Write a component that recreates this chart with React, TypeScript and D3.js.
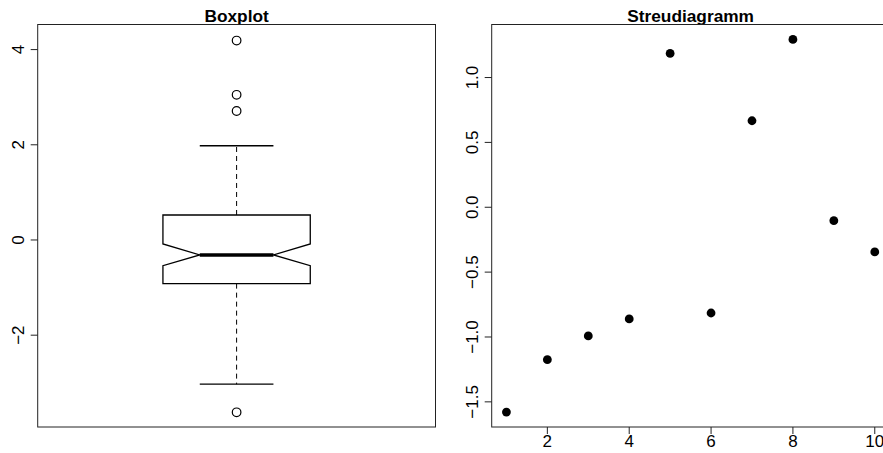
import React from "react";
import * as d3 from "d3";

// Boxplot statistics (n = 100)
const boxStats = { lowerWhisker: -3.03, q1: -0.917, median: -0.315, q3: 0.525, upperWhisker: 1.98 };
const notchBounds = [-0.54, -0.084];
const outliers = [4.19, 3.05, 2.71, -3.62];
const boxTicks = [-2, 0, 2, 4];

// Scatter data
const scatterX = [1, 2, 3, 4, 5, 6, 7, 8, 9, 10];
const scatterY = [-1.579, -1.175, -0.992, -0.861, 1.186, -0.815, 0.667, 1.294, -0.103, -0.344];
const scatterXTicks = [2, 4, 6, 8, 10];
const scatterYTicks = [-1.5, -1.0, -0.5, 0.0, 0.5, 1.0];

const W = 883;
const H = 453;
const FONT = "'Liberation Sans', Arial, Helvetica, sans-serif";
const TOP = 24.5;
const BOTTOM = 427;
const TICKFS = 17;

const fmtMinus = (s: string) => s.replace("-", "\u2212");

export default function App() {
  // Left panel
  const lx = d3.scaleLinear().domain([0.46, 1.54]).range([37.7, 435.5]);
  const ly = d3.scaleLinear().domain([-3.929, 4.527]).range([BOTTOM, TOP]);
  // Right panel
  const rx = d3.scaleLinear().domain([0.64, 10.36]).range([491.7, 889.5]);
  const ext = d3.extent(scatterY) as [number, number];
  const pad = (ext[1] - ext[0]) * 0.04;
  const ry = d3.scaleLinear().domain([ext[0] - pad, ext[1] + pad]).range([BOTTOM, TOP]);

  const c = 1;
  const bw = 0.2;
  const nw = 0.1;
  const cap = 0.1;

  const boxPath =
    `M${lx(c - bw)},${ly(boxStats.q3)}` +
    `L${lx(c + bw)},${ly(boxStats.q3)}` +
    `L${lx(c + bw)},${ly(notchBounds[1])}` +
    `L${lx(c + nw)},${ly(boxStats.median)}` +
    `L${lx(c + bw)},${ly(notchBounds[0])}` +
    `L${lx(c + bw)},${ly(boxStats.q1)}` +
    `L${lx(c - bw)},${ly(boxStats.q1)}` +
    `L${lx(c - bw)},${ly(notchBounds[0])}` +
    `L${lx(c - nw)},${ly(boxStats.median)}` +
    `L${lx(c - bw)},${ly(notchBounds[1])}Z`;

  const fmtBox = (v: number) => fmtMinus(d3.format("d")(v));
  const fmtScat = (v: number) => fmtMinus(d3.format(".1f")(v));

  return (
    <svg
      width={W}
      height={H}
      style={{ position: "absolute", left: 0, top: 0, background: "#fff" }}
      fontFamily={FONT}
    >
      <rect x={0} y={0} width={W} height={H} fill="#fff" />
      {/* ---------- Left: Boxplot ---------- */}
      <text x={(lx.range()[0] + lx.range()[1]) / 2} y={21.5} textAnchor="middle" fontWeight="bold" fontSize={17.3}>
        Boxplot
      </text>
      <rect
        x={lx.range()[0]}
        y={TOP}
        width={lx.range()[1] - lx.range()[0]}
        height={BOTTOM - TOP}
        fill="none"
        stroke="#222"
        strokeWidth={1}
      />
      {boxTicks.map((t) => (
        <g key={"lt" + t}>
          <line x1={lx.range()[0] - 7} x2={lx.range()[0]} y1={ly(t)} y2={ly(t)} stroke="#222" />
          <text
            transform={`translate(${lx.range()[0] - 19},${ly(t)}) rotate(-90)`}
            textAnchor="middle"
            dominantBaseline="central"
            fontSize={TICKFS}
          >
            {fmtBox(t)}
          </text>
        </g>
      ))}
      {/* whiskers */}
      <line x1={lx(c)} x2={lx(c)} y1={ly(boxStats.q3)} y2={ly(boxStats.upperWhisker)} stroke="#000" strokeDasharray="5,4" />
      <line x1={lx(c)} x2={lx(c)} y1={ly(boxStats.q1)} y2={ly(boxStats.lowerWhisker)} stroke="#000" strokeDasharray="5,4" />
      <line x1={lx(c - cap)} x2={lx(c + cap)} y1={ly(boxStats.upperWhisker)} y2={ly(boxStats.upperWhisker)} stroke="#000" strokeWidth={1.3} />
      <line x1={lx(c - cap)} x2={lx(c + cap)} y1={ly(boxStats.lowerWhisker)} y2={ly(boxStats.lowerWhisker)} stroke="#000" strokeWidth={1.3} />
      <path d={boxPath} fill="none" stroke="#000" strokeWidth={1.3} />
      <line x1={lx(c - nw)} x2={lx(c + nw)} y1={ly(boxStats.median)} y2={ly(boxStats.median)} stroke="#000" strokeWidth={3.5} />
      {outliers.map((o, i) => (
        <circle key={"o" + i} cx={lx(c)} cy={ly(o)} r={4.3} fill="none" stroke="#000" strokeWidth={1.2} />
      ))}

      {/* ---------- Right: Streudiagramm ---------- */}
      <text x={(rx.range()[0] + rx.range()[1]) / 2} y={21.5} textAnchor="middle" fontWeight="bold" fontSize={17.3}>
        Streudiagramm
      </text>
      <rect
        x={rx.range()[0]}
        y={TOP}
        width={rx.range()[1] - rx.range()[0]}
        height={BOTTOM - TOP}
        fill="none"
        stroke="#222"
        strokeWidth={1}
      />
      {scatterYTicks.map((t) => (
        <g key={"ry" + t}>
          <line x1={rx.range()[0] - 7} x2={rx.range()[0]} y1={ry(t)} y2={ry(t)} stroke="#222" />
          <text
            transform={`translate(${rx.range()[0] - 19},${ry(t)}) rotate(-90)`}
            textAnchor="middle"
            dominantBaseline="central"
            fontSize={TICKFS}
          >
            {fmtScat(t)}
          </text>
        </g>
      ))}
      {scatterXTicks.map((t) => (
        <g key={"rx" + t}>
          <line x1={rx(t)} x2={rx(t)} y1={BOTTOM} y2={BOTTOM + 7} stroke="#222" />
          <text x={rx(t)} y={447} textAnchor="middle" fontSize={TICKFS}>
            {String(t)}
          </text>
        </g>
      ))}
      {scatterX.map((x, i) => (
        <circle key={"p" + i} cx={rx(x)} cy={ry(scatterY[i])} r={4.4} fill="#000" />
      ))}
    </svg>
  );
}
